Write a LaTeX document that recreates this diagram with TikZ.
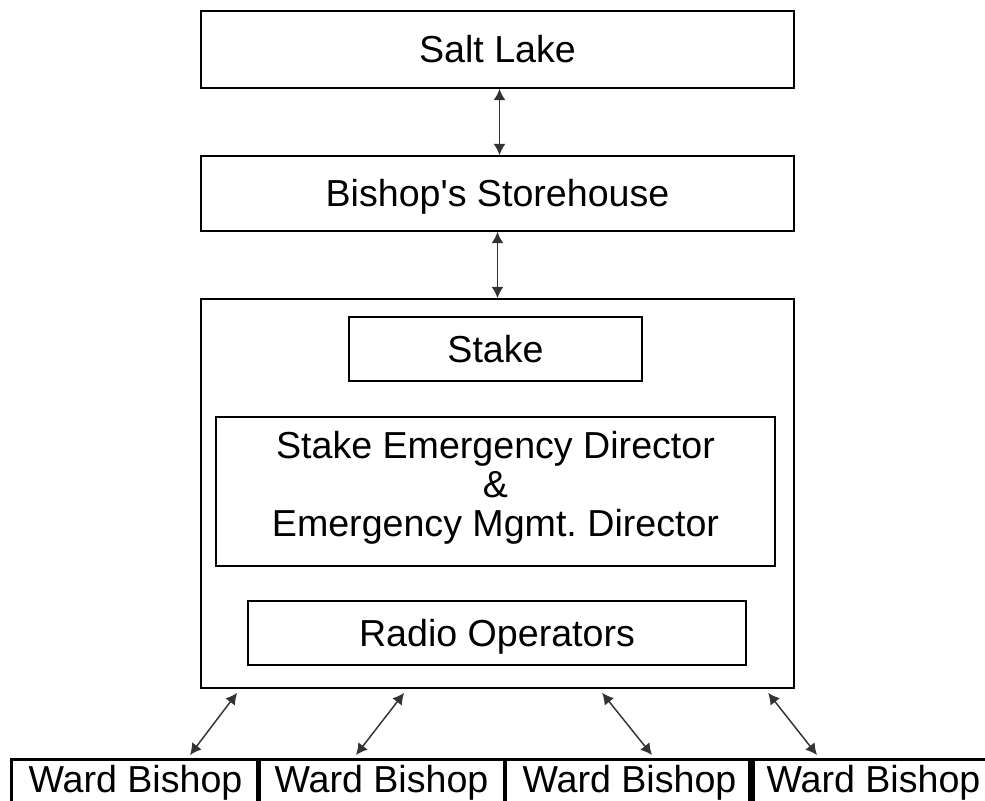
\documentclass[tikz,border=0pt]{standalone}
\usepackage{fontspec}
\setmainfont{Liberation Sans}
\usetikzlibrary{calc,arrows.meta}
\tikzset{
	bigbox/.style={draw, line width=1.3pt, inner sep=0pt, font=\fontsize{28.2pt}{29.5pt}\selectfont, text height=20.2pt, text depth=0pt},
	smallbox/.style={draw, line width=0.9pt, inner sep=0pt, font=\fontsize{28.2pt}{29.5pt}\selectfont},
	wardbox/.style={draw, line width=2.6pt, anchor=north west, minimum width=185.6pt, inner xsep=0pt, inner ysep=4.5pt, text height=20.2pt, text depth=20pt, font=\fontsize{28.2pt}{29.5pt}\selectfont},
	dlink/.style={{Latex[length=8.5pt,width=9pt]}-{Latex[length=8.5pt,width=9pt]}, line width=1.1pt, color=black!80}
}

\begin{document}
\begin{tikzpicture}[x=0.75pt, y=-0.75pt]
			%%%%% START %%%%%
			\useasboundingbox (0, 0) rectangle (985, 800);
			\clip (0, 0) rectangle (985, 800);
			
			\node[bigbox, minimum width=444.75pt, minimum height=57.75pt] (salt) at (497.5, 49.5) {Salt Lake};
			\node[bigbox, minimum width=444.75pt, minimum height=56.25pt] (store) at (497.5, 193.5) {Bishop\textquotesingle s Storehouse};
			\node[bigbox, minimum width=444.75pt, minimum height=291.75pt] (outer) at (497.5, 493.5) {};
			
			\node[smallbox, minimum width=219.75pt, minimum height=48pt, text height=20.2pt, text depth=0pt] (stake) at (495.5, 349) {Stake};
			\node[smallbox, minimum width=419.25pt, minimum height=111.75pt, align=center, text depth=11.5pt] (sed) at (495.5, 491.5) {Stake Emergency Director\\\&\\Emergency Mgmt.\ Director};
			\node[smallbox, minimum width=373.5pt, minimum height=48pt, text height=20.2pt, text depth=0pt] (radio) at (497, 633) {Radio Operators};
			
			\node[wardbox] (ward1) at (10, 758) {Ward Bishop};
			\node[wardbox] (ward2) at (256, 758) {Ward Bishop};
			\node[wardbox] (ward3) at (504, 758) {Ward Bishop};
			\node[wardbox] (ward4) at (748, 758) {Ward Bishop};
			
			\draw[dlink] ([xshift=1.5pt]salt.south) -- ([xshift=1.5pt]store.north);
			\draw[dlink] (store.south) -- (outer.north);
			
			\draw[dlink] ($(outer.south west)+(37, 4)$) -- ($(ward1.north west)+(180, -3)$);
			\draw[dlink] ($(outer.south west)+(204, 4)$) -- ($(ward2.north west)+(100, -3)$);
			\draw[dlink] ($(outer.south west)+(402, 4)$) -- ($(ward3.north west)+(148, -3)$);
			\draw[dlink] ($(outer.south west)+(568, 4)$) -- ($(ward4.north west)+(69, -3)$);
			
			%%%%% END %%%%%
		\end{tikzpicture}
\end{document}
